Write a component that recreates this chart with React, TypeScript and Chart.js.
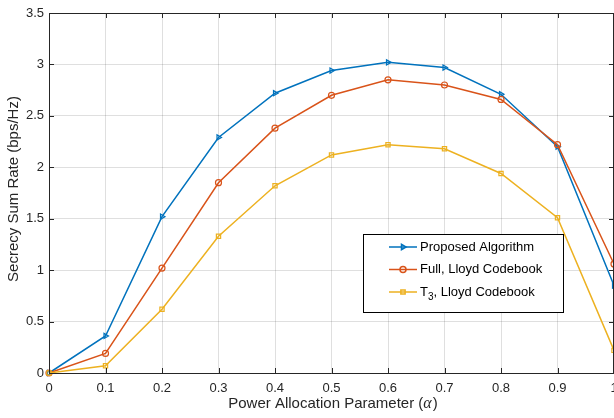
import React, { useEffect, useRef } from "react";
import { Chart, registerables } from "chart.js";
import { drawPoint } from "chart.js/helpers";

Chart.register(...registerables);

const alphaValues = [0, 0.1, 0.2, 0.3, 0.4, 0.5, 0.6, 0.7, 0.8, 0.9, 1.0];
const proposedAlgorithm = [0, 0.36, 1.52, 2.29, 2.72, 2.94, 3.02, 2.97, 2.71, 2.2, 0.85];
const fullLloyd = [0, 0.19, 1.02, 1.85, 2.38, 2.7, 2.85, 2.8, 2.66, 2.22, 1.06];
const t3Lloyd = [0, 0.07, 0.62, 1.33, 1.82, 2.12, 2.22, 2.18, 1.94, 1.51, 0.22];
const seriesNames = ["Proposed Algorithm", "Full, Lloyd Codebook", "T\u2083, Lloyd Codebook"];
const xTitle = ["Power Allocation Parameter (", "\u03b1", ")"];
const yTitle = "Secrecy Sum Rate (bps/Hz)";

const COLORS = ["#0072BD", "#D95319", "#EDB120"];
const STYLES = [
  { pointStyle: "triangle", rotation: 90 },
  { pointStyle: "circle", rotation: 0 },
  { pointStyle: "rect", rotation: 0 },
];
const FONT = "'Liberation Sans', Arial, Helvetica, sans-serif";
const AXIS = "#262626";

const decoPlugin = {
  id: "deco",
  afterDraw(chart: any) {
    const { ctx, chartArea: a, scales } = chart;
    const xs = scales.x;
    const ys = scales.y;
    ctx.save();
    // box + inward ticks
    ctx.strokeStyle = AXIS;
    ctx.lineWidth = 1;
    ctx.beginPath();
    ctx.rect(a.left + 0.5, a.top + 0.5, a.right - a.left - 1, a.bottom - a.top);
    for (const t of xs.ticks) {
      const px = Math.round(xs.getPixelForValue(t.value)) + 0.5;
      ctx.moveTo(px, a.bottom);
      ctx.lineTo(px, a.bottom - 5);
      ctx.moveTo(px, a.top);
      ctx.lineTo(px, a.top + 5);
    }
    for (const t of ys.ticks) {
      const py = Math.round(ys.getPixelForValue(t.value)) + 0.5;
      ctx.moveTo(a.left, py);
      ctx.lineTo(a.left + 5, py);
      ctx.moveTo(a.right, py);
      ctx.lineTo(a.right - 5, py);
    }
    ctx.stroke();

    // x title with italic alpha
    ctx.fillStyle = AXIS;
    ctx.textBaseline = "middle";
    ctx.textAlign = "left";
    const normal = `15px ${FONT}`;
    const italic = `italic 16px 'Liberation Serif', 'DejaVu Serif', serif`;
    ctx.font = normal;
    const w0 = ctx.measureText(xTitle[0]).width;
    const w2 = ctx.measureText(xTitle[2]).width;
    ctx.font = italic;
    const w1 = ctx.measureText(xTitle[1]).width + 1;
    const total = w0 + w1 + w2;
    let tx = 333 - total / 2;
    const ty = 404;
    ctx.font = normal;
    ctx.fillText(xTitle[0], tx, ty);
    tx += w0;
    ctx.font = italic;
    ctx.fillText(xTitle[1], tx, ty);
    tx += w1;
    ctx.font = normal;
    ctx.fillText(xTitle[2], tx, ty);

    // y title
    ctx.save();
    ctx.translate(14, 189);
    ctx.rotate(-Math.PI / 2);
    ctx.textAlign = "center";
    ctx.font = normal;
    ctx.fillText(yTitle, 0, 0);
    ctx.restore();

    // legend
    const bx = 363, by = 234, bw = 200, bh = 78;
    ctx.fillStyle = "#ffffff";
    ctx.fillRect(bx, by, bw, bh);
    ctx.strokeStyle = "#000000";
    ctx.lineWidth = 1;
    ctx.strokeRect(bx + 0.5, by + 0.5, bw, bh);
    const rows = [247, 269.5, 292];
    seriesNames.forEach((name, i) => {
      const ry = rows[i];
      ctx.strokeStyle = COLORS[i];
      ctx.lineWidth = 1.5;
      ctx.beginPath();
      ctx.moveTo(389, ry);
      ctx.lineTo(417, ry);
      ctx.stroke();
      ctx.fillStyle = "rgba(0,0,0,0)";
      drawPoint(
        ctx,
        { pointStyle: STYLES[i].pointStyle as any, rotation: STYLES[i].rotation, radius: 3, borderWidth: 1.2 },
        403,
        ry
      );
      ctx.fillStyle = "#000000";
      ctx.textAlign = "left";
      ctx.textBaseline = "middle";
      let lx = 420;
      const parts = name.split("\u2083");
      ctx.font = `13px ${FONT}`;
      if (parts.length > 1) {
        ctx.fillText(parts[0], lx, ry);
        lx += ctx.measureText(parts[0]).width;
        ctx.font = `10px ${FONT}`;
        ctx.fillText("3", lx, ry + 5);
        lx += ctx.measureText("3").width;
        ctx.font = `13px ${FONT}`;
        ctx.fillText(parts[1], lx, ry);
      } else {
        ctx.fillText(name, lx, ry);
      }
    });
    ctx.restore();
  },
};

export default function App() {
  const ref = useRef<HTMLCanvasElement>(null);
  useEffect(() => {
    if (!ref.current) return;
    const series = [proposedAlgorithm, fullLloyd, t3Lloyd];
    const chart = new Chart(ref.current, {
      type: "line",
      data: {
        datasets: series.map((vals, i) => ({
          label: seriesNames[i],
          data: alphaValues.map((x, j) => ({ x, y: vals[j] })),
          borderColor: COLORS[i],
          backgroundColor: "rgba(0,0,0,0)",
          borderWidth: 1.5,
          pointStyle: STYLES[i].pointStyle as any,
          pointRotation: STYLES[i].rotation,
          pointRadius: 3,
          pointBorderWidth: 1.2,
          pointBorderColor: COLORS[i],
          pointBackgroundColor: "rgba(0,0,0,0)",
          tension: 0,
          clip: false as any,
          order: 3 - i,
        })),
      },
      options: {
        animation: false,
        responsive: false,
        devicePixelRatio: 1,
        layout: { padding: { top: 13, right: 16, left: 0, bottom: 0 } },
        plugins: { legend: { display: false }, tooltip: { enabled: false } },
        scales: {
          x: {
            type: "linear",
            min: 0,
            max: 1,
            afterFit: (s: any) => {
              s.height = 45;
            },
            ticks: {
              stepSize: 0.1,
              padding: 8,
              color: AXIS,
              font: { family: FONT, size: 13 },
              maxRotation: 0,
              callback: (v: any) => String(Number(Number(v).toFixed(1))),
            },
            grid: { color: "rgba(38,38,38,0.15)", drawTicks: false },
            border: { display: false },
          },
          y: {
            type: "linear",
            min: 0,
            max: 3.5,
            afterFit: (s: any) => {
              s.width = 49;
            },
            ticks: {
              stepSize: 0.5,
              padding: 5,
              color: AXIS,
              font: { family: FONT, size: 13 },
              callback: (v: any) => String(Number(Number(v).toFixed(1))),
            },
            grid: { color: "rgba(38,38,38,0.15)", drawTicks: false },
            border: { display: false },
          },
        },
      },
      plugins: [decoPlugin],
    });
    return () => chart.destroy();
  }, []);
  return (
    <div style={{ position: "fixed", left: 0, top: 0, width: 630, height: 418, background: "#fff" }}>
      <canvas ref={ref} width={630} height={418} style={{ display: "block" }} />
    </div>
  );
}
